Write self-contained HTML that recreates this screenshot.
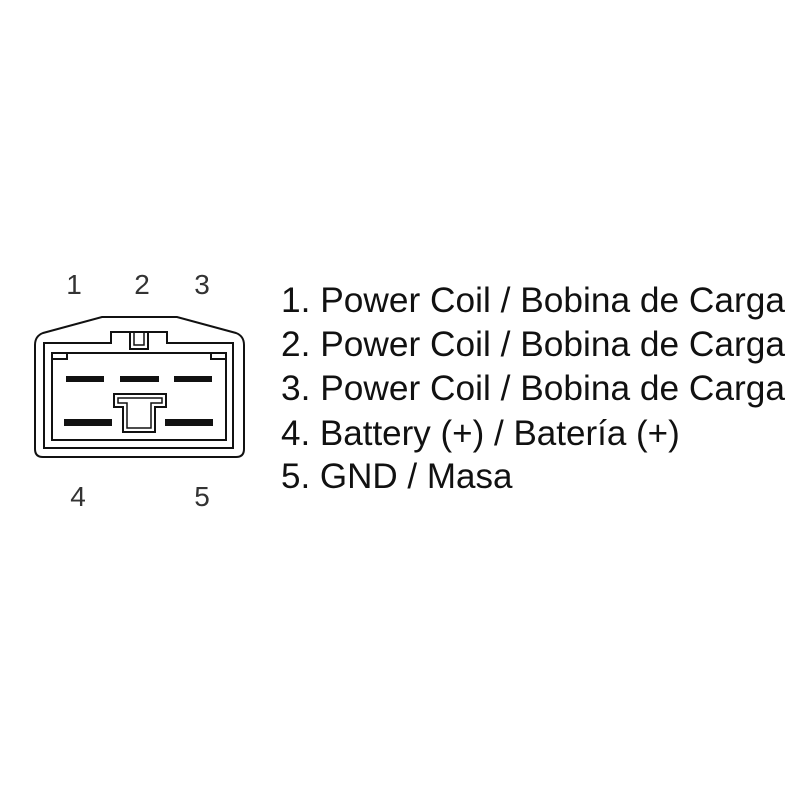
<!DOCTYPE html>
<html><head><style>body{margin:0;background:#fff}svg{display:block}</style></head>
<body>
<svg width="800" height="800" viewBox="0 0 800 800" xmlns="http://www.w3.org/2000/svg">
<rect width="800" height="800" fill="#fff"/>
<g font-family="Liberation Sans, Arial, sans-serif" font-size="28" fill="#333">
<text x="74" y="294" text-anchor="middle">1</text>
<text x="142" y="294" text-anchor="middle">2</text>
<text x="202" y="294" text-anchor="middle">3</text>
<text x="78" y="506" text-anchor="middle">4</text>
<text x="202" y="506" text-anchor="middle">5</text>
</g>
<g fill="none" stroke="#111" stroke-width="2">
<path d="M43,333 L102,317 L177,317 L236,333 Q244,336 244,345 L244,449 Q244,457 236,457 L43,457 Q35,457 35,449 L35,345 Q35,336 43,333 Z"/>
<path d="M44,343 L111,343 L111,332 L167,332 L167,343 L233,343 L233,448 L44,448 Z"/>
<rect x="52" y="353" width="174" height="87"/>
<rect x="130" y="332" width="18" height="17"/>
<rect x="134" y="332" width="10" height="13" stroke-width="1.5"/>
<path d="M52,359 L67,359 L67,353"/>
<path d="M226,359 L211,359 L211,353"/>
<path d="M114,394 L166,394 L166,407 L155,407 L155,432 L123,432 L123,407 L114,407 Z"/>
<path d="M118,398 L162,398 L162,403 L151,403 L151,428 L127,428 L127,403 L118,403 Z" stroke-width="1.5"/>
</g>
<g fill="#111">
<rect x="66" y="376" width="38" height="6"/>
<rect x="120" y="376" width="39" height="6"/>
<rect x="174" y="376" width="38" height="6"/>
<rect x="64" y="419" width="48" height="7"/>
<rect x="165" y="419" width="48" height="7"/>
</g>
<g font-family="Liberation Sans, Arial, sans-serif" font-size="35" fill="#111">
<text x="281" y="312" textLength="504" lengthAdjust="spacingAndGlyphs">1. Power Coil / Bobina de Carga</text>
<text x="281" y="356" textLength="504" lengthAdjust="spacingAndGlyphs">2. Power Coil / Bobina de Carga</text>
<text x="281" y="400" textLength="504" lengthAdjust="spacingAndGlyphs">3. Power Coil / Bobina de Carga</text>
<text x="281" y="445">4. Battery (+) / Batería (+)</text>
<text x="281" y="488">5. GND / Masa</text>
</g>
</svg>
</body></html>
